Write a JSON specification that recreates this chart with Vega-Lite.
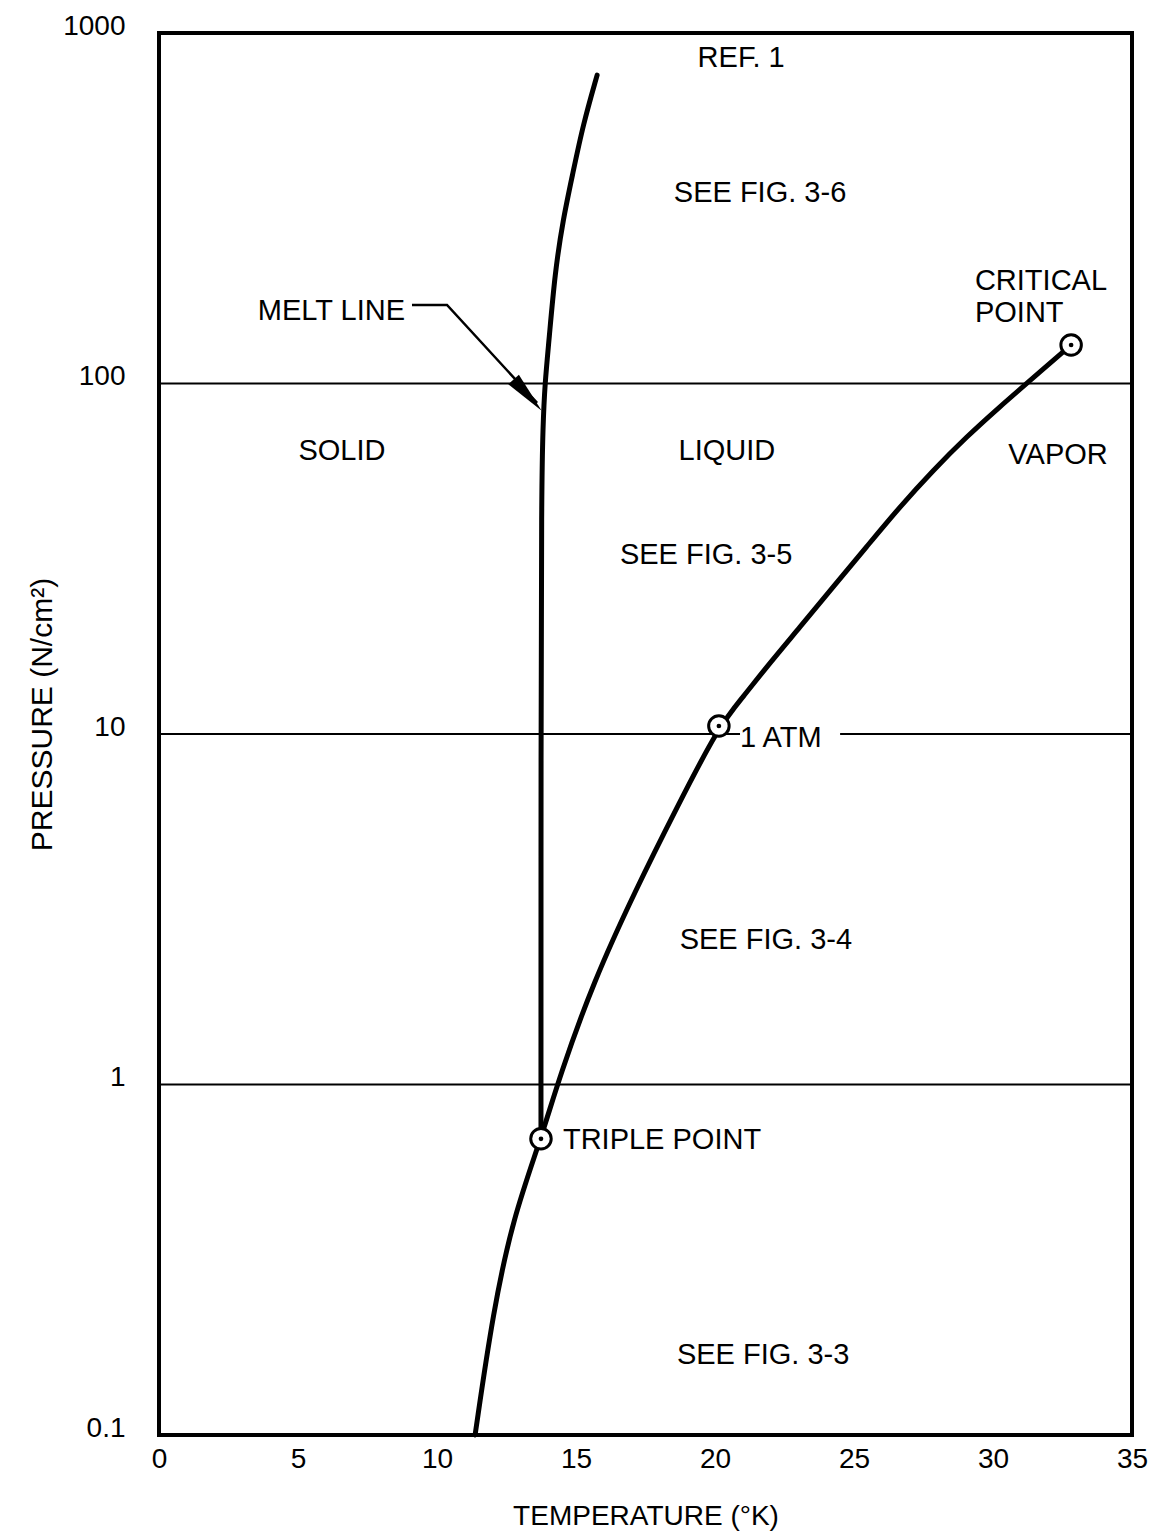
{
  "$schema": "https://vega.github.io/schema/vega-lite/v6.json",
  "width": 973,
  "height": 1402,
  "autosize": "none",
  "padding": {"left": 159, "top": 33, "right": 21, "bottom": 102},
  "background": "white",
  "config": {
    "font": "Liberation Sans",
    "view": {"stroke": "black", "strokeWidth": 4},
    "axis": {"labelColor": "black", "titleColor": "black", "titleFontWeight": "normal"}
  },
  "datasets": {
    "curves": [
      {"curve": "melt", "T": 13.74, "P": 0.70},
      {"curve": "melt", "T": 13.74, "P": 10},
      {"curve": "melt", "T": 13.76, "P": 50},
      {"curve": "melt", "T": 13.81, "P": 75},
      {"curve": "melt", "T": 13.88, "P": 100},
      {"curve": "melt", "T": 14.03, "P": 133},
      {"curve": "melt", "T": 14.24, "P": 206},
      {"curve": "melt", "T": 14.53, "P": 293},
      {"curve": "melt", "T": 14.89, "P": 399},
      {"curve": "melt", "T": 15.25, "P": 546},
      {"curve": "melt", "T": 15.76, "P": 758},
      {"curve": "vapor", "T": 11.37, "P": 0.1},
      {"curve": "vapor", "T": 12.02, "P": 0.226},
      {"curve": "vapor", "T": 12.75, "P": 0.42},
      {"curve": "vapor", "T": 13.74, "P": 0.70},
      {"curve": "vapor", "T": 14.42, "P": 1.06},
      {"curve": "vapor", "T": 15.62, "P": 1.96},
      {"curve": "vapor", "T": 17.18, "P": 3.64},
      {"curve": "vapor", "T": 18.62, "P": 6.15},
      {"curve": "vapor", "T": 20.14, "P": 10.54},
      {"curve": "vapor", "T": 21.02, "P": 12.78},
      {"curve": "vapor", "T": 21.86, "P": 15.56},
      {"curve": "vapor", "T": 23.06, "P": 20.2},
      {"curve": "vapor", "T": 24.25, "P": 26.3},
      {"curve": "vapor", "T": 25.45, "P": 34.2},
      {"curve": "vapor", "T": 26.65, "P": 44.5},
      {"curve": "vapor", "T": 27.85, "P": 56.6},
      {"curve": "vapor", "T": 29.05, "P": 70.5},
      {"curve": "vapor", "T": 30.25, "P": 85.9},
      {"curve": "vapor", "T": 31.21, "P": 100},
      {"curve": "vapor", "T": 32.81, "P": 128.8}
    ],
    "grid": [
      {"P": 1, "T1": 0, "T2": 35},
      {"P": 100, "T1": 0, "T2": 35},
      {"P": 10, "T1": 0, "T2": 20.9},
      {"P": 10, "T1": 24.5, "T2": 35}
    ],
    "marks": [
      {"name": "critical point", "T": 32.81, "P": 128.8},
      {"name": "1 atm", "T": 20.14, "P": 10.54},
      {"name": "triple point", "T": 13.74, "P": 0.70}
    ],
    "arrow": [
      {"T": 9.10, "P": 167.6},
      {"T": 10.36, "P": 167.6},
      {"T": 13.6, "P": 88}
    ],
    "arrowhead": [
      {"T": 13.26, "P": 92.7}
    ],
    "labelsCenter": [
      {"text": "REF. 1", "T": 20.94, "P": 849},
      {"text": "SEE FIG. 3-6", "T": 21.62, "P": 350},
      {"text": "SOLID", "T": 6.58, "P": 64.2},
      {"text": "LIQUID", "T": 20.43, "P": 64.2},
      {"text": "VAPOR", "T": 32.34, "P": 62.5},
      {"text": "SEE FIG. 3-5", "T": 19.68, "P": 32.4},
      {"text": "SEE FIG. 3-4", "T": 21.83, "P": 2.58},
      {"text": "SEE FIG. 3-3", "T": 21.73, "P": 0.169}
    ],
    "labelsLeft": [
      {"text": "CRITICAL", "T": 29.35, "P": 196},
      {"text": "POINT", "T": 29.35, "P": 158.9},
      {"text": "1 ATM", "T": 20.9, "P": 9.74},
      {"text": "TRIPLE POINT", "T": 14.53, "P": 0.695}
    ],
    "labelsRight": [
      {"text": "MELT LINE", "T": 8.85, "P": 161}
    ]
  },
  "encoding": {
    "x": {
      "field": "T", "type": "quantitative",
      "scale": {"domain": [0, 35], "nice": false, "zero": false},
      "axis": {
        "title": "TEMPERATURE (°K)",
        "values": [0, 5, 10, 15, 20, 25, 30, 35],
        "ticks": false, "domain": false, "grid": false,
        "labelFlush": false, "labelPadding": 10, "labelFontSize": 28,
        "titleFontSize": 28, "titleY": 81, "titleBaseline": "middle"
      }
    },
    "y": {
      "field": "P", "type": "quantitative",
      "scale": {"type": "log", "domain": [0.1, 1000], "nice": false},
      "axis": {
        "title": "PRESSURE (N/cm²)",
        "values": [0.1, 1, 10, 100, 1000],
        "format": "~g",
        "ticks": false, "domain": false, "grid": false,
        "labelPadding": 34, "labelOffset": -7, "labelFontSize": 28, "labelBaseline": "middle",
        "titleFontSize": 30, "titleX": -117, "titleY": 681, "titleAngle": -90,
        "titleAlign": "center", "titleBaseline": "middle"
      }
    }
  },
  "layer": [
    {
      "data": {"name": "grid"},
      "mark": {"type": "rule", "color": "black", "strokeWidth": 2.2},
      "encoding": {
        "x": {"field": "T1", "type": "quantitative"},
        "x2": {"field": "T2"},
        "y": {"field": "P", "type": "quantitative"}
      }
    },
    {
      "data": {"name": "curves"},
      "mark": {"type": "line", "color": "black", "strokeWidth": 5, "strokeCap": "round", "interpolate": "basis"},
      "encoding": {
        "detail": {"field": "curve"},
        "order": {"field": "P", "type": "quantitative"}
      }
    },
    {
      "data": {"name": "arrow"},
      "mark": {"type": "line", "color": "black", "strokeWidth": 2.5},
      "encoding": {}
    },
    {
      "data": {"name": "arrowhead"},
      "mark": {"type": "point", "filled": true, "color": "black", "opacity": 1, "shape": "M 0 -1 L 0.34 1 L -0.34 1 Z", "size": 1764, "angle": 138},
      "encoding": {}
    },
    {
      "data": {"name": "marks"},
      "mark": {"type": "point", "shape": "circle", "fill": "white", "filled": true, "stroke": "black", "strokeWidth": 3, "size": 420, "opacity": 1},
      "encoding": {}
    },
    {
      "data": {"name": "marks"},
      "mark": {"type": "point", "shape": "circle", "filled": true, "color": "black", "size": 22, "opacity": 1},
      "encoding": {}
    },
    {
      "data": {"name": "labelsCenter"},
      "mark": {"type": "text", "fontSize": 29, "align": "center", "baseline": "middle", "color": "black"},
      "encoding": {"text": {"field": "text"}}
    },
    {
      "data": {"name": "labelsLeft"},
      "mark": {"type": "text", "fontSize": 29, "align": "left", "baseline": "middle", "color": "black"},
      "encoding": {"text": {"field": "text"}}
    },
    {
      "data": {"name": "labelsRight"},
      "mark": {"type": "text", "fontSize": 29, "align": "right", "baseline": "middle", "color": "black"},
      "encoding": {"text": {"field": "text"}}
    }
  ]
}
